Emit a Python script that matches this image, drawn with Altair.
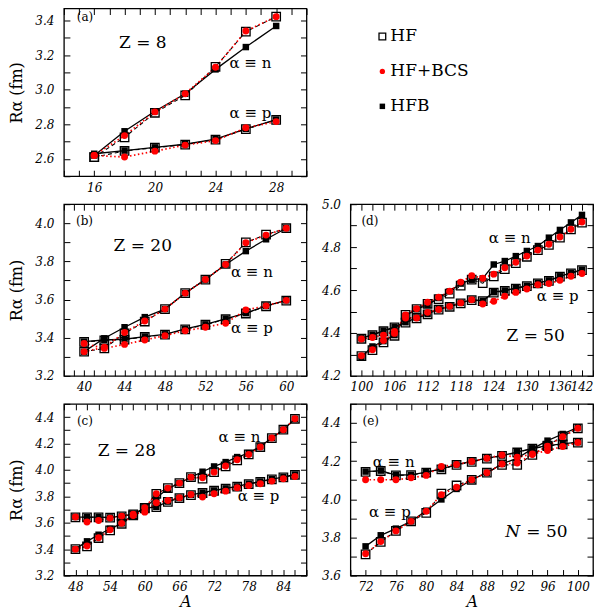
import altair as alt
import pandas as pd

SERIF = "DejaVu Serif"
METHODS = ["HF", "HF+BCS", "HFB"]

# ---------------- Panel (a): Z = 8 ----------------
A_a = [16, 18, 20, 22, 24, 26, 28]
a_hfb_n = [2.62, 2.76, 2.876, 2.977, 3.118, 3.247, 3.369]
a_hf_n = [2.61, 2.725, 2.867, 2.967, 3.133, 3.336, 3.423]
a_bcs_n = [2.62, 2.735, 2.872, 2.977, 3.13, 3.34, 3.423]
a_hfb_p = [2.63, 2.648, 2.667, 2.685, 2.714, 2.774, 2.828]
a_hf_p = [2.61, 2.646, 2.665, 2.683, 2.712, 2.772, 2.826]
a_bcs_p = [2.62, 2.611, 2.645, 2.68, 2.706, 2.78, 2.816]

# ---------------- Panel (b): Z = 20 ----------------
A_b = [40, 42, 44, 46, 48, 50, 52, 54, 56, 58, 60]
b_hfb_n = [3.327, 3.397, 3.455, 3.508, 3.55, 3.634, 3.705, 3.784, 3.854, 3.916, 3.974]
b_hf_n = [3.327, 3.344, 3.423, 3.485, 3.55, 3.634, 3.705, 3.787, 3.900, 3.940, 3.974]
b_bcs_n = [3.327, 3.350, 3.427, 3.488, 3.55, 3.634, 3.705, 3.784, 3.898, 3.938, 3.974]
b_hfb_p = [3.380, 3.388, 3.392, 3.406, 3.418, 3.446, 3.470, 3.499, 3.529, 3.567, 3.596]
b_hf_p = [3.378, 3.386, 3.390, 3.404, 3.416, 3.444, 3.468, 3.497, 3.527, 3.565, 3.594]
b_bcs_p = [3.370, 3.344, 3.365, 3.388, 3.411, 3.437, 3.455, 3.476, 3.546, 3.567, 3.596]

# ---------------- Panel (c): Z = 28 ----------------
A_c = [48, 50, 52, 54, 56, 58, 60, 62, 64, 66, 68, 70, 72, 74, 76, 78, 80, 82, 84, 86]
c_hfb_n = [3.400, 3.459, 3.509, 3.554, 3.595, 3.660, 3.713, 3.789, 3.857, 3.900, 3.945,
           3.986, 4.026, 4.059, 4.097, 4.127, 4.178, 4.241, 4.304, 4.387]
c_hf_n = [3.400, 3.420, 3.484, 3.542, 3.592, 3.655, 3.713, 3.819, 3.862, 3.900, 3.945,
          3.933, 3.983, 4.026, 4.072, 4.117, 4.173, 4.241, 4.304, 4.387]
c_bcs_n = [3.400, 3.424, 3.486, 3.546, 3.595, 3.655, 3.713, 3.819, 3.862, 3.900, 3.945,
           3.940, 3.983, 4.030, 4.077, 4.117, 4.173, 4.241, 4.304, 4.387]
c_hfb_p = [3.643, 3.643, 3.643, 3.640, 3.650, 3.665, 3.710, 3.720, 3.760, 3.789, 3.811,
           3.827, 3.844, 3.860, 3.875, 3.895, 3.912, 3.930, 3.945, 3.965]
c_hf_p = [3.641, 3.641, 3.641, 3.638, 3.648, 3.663, 3.708, 3.718, 3.758, 3.787, 3.809,
          3.825, 3.842, 3.858, 3.873, 3.893, 3.910, 3.928, 3.943, 3.963]
c_bcs_p = [3.643, 3.605, 3.617, 3.635, 3.650, 3.665, 3.680, 3.751, 3.768, 3.789, 3.814,
           3.794, 3.819, 3.839, 3.865, 3.882, 3.895, 3.915, 3.933, 3.950]

# ---------------- Panel (d): Z = 50 ----------------
A_d = [100, 102, 104, 106, 108, 110, 112, 114, 116, 118, 120, 122, 124, 126, 128, 130,
       132, 134, 136, 138, 140]
d_hfb_n = [4.289, 4.337, 4.362, 4.390, 4.480, 4.511, 4.531, 4.563, 4.594, 4.630, 4.648,
           4.654, 4.719, 4.735, 4.758, 4.782, 4.805, 4.844, 4.880, 4.915, 4.950]
d_hf_n = [4.292, 4.320, 4.356, 4.387, 4.484, 4.511, 4.536, 4.558, 4.583, 4.620, 4.648,
          4.632, 4.664, 4.697, 4.725, 4.755, 4.786, 4.810, 4.844, 4.883, 4.914]
d_bcs_n = [4.294, 4.322, 4.365, 4.398, 4.484, 4.513, 4.543, 4.566, 4.594, 4.637, 4.667,
           4.655, 4.674, 4.704, 4.729, 4.758, 4.786, 4.813, 4.847, 4.883, 4.917]
d_hfb_p = [4.375, 4.392, 4.410, 4.428, 4.450, 4.470, 4.489, 4.511, 4.524, 4.540, 4.555,
           4.550, 4.590, 4.598, 4.609, 4.620, 4.633, 4.645, 4.664, 4.680, 4.695]
d_hf_p = [4.373, 4.390, 4.408, 4.426, 4.448, 4.468, 4.487, 4.509, 4.522, 4.538, 4.553,
          4.548, 4.588, 4.596, 4.607, 4.618, 4.631, 4.643, 4.662, 4.678, 4.693]
d_bcs_p = [4.372, 4.379, 4.390, 4.407, 4.470, 4.470, 4.496, 4.509, 4.524, 4.540, 4.555,
           4.535, 4.548, 4.571, 4.589, 4.605, 4.625, 4.630, 4.645, 4.664, 4.677]

# ---------------- Panel (e): N = 50 ----------------
A_e = [72, 74, 76, 78, 80, 82, 84, 86, 88, 90, 92, 94, 96, 98, 100]
e_hfb_n = [4.145, 4.150, 4.127, 4.128, 4.142, 4.159, 4.182, 4.198, 4.215, 4.229, 4.247,
           4.267, 4.281, 4.290, 4.299]
e_hf_n = [4.143, 4.148, 4.125, 4.126, 4.140, 4.157, 4.180, 4.196, 4.213, 4.227, 4.245,
          4.265, 4.279, 4.288, 4.297]
e_bcs_n = [4.102, 4.102, 4.102, 4.112, 4.125, 4.172, 4.182, 4.198, 4.215, 4.232, 4.220,
           4.237, 4.255, 4.276, 4.297]
e_hfb_p = [3.753, 3.811, 3.846, 3.884, 3.940, 3.999, 4.054, 4.102, 4.139, 4.185, 4.215,
           4.264, 4.307, 4.342, 4.377]
e_hf_p = [3.711, 3.776, 3.834, 3.884, 3.928, 4.029, 4.072, 4.102, 4.139, 4.180, 4.180,
          4.232, 4.281, 4.330, 4.372]
e_bcs_p = [3.714, 3.778, 3.834, 3.884, 3.937, 4.024, 4.063, 4.102, 4.139, 4.185, 4.190,
           4.234, 4.278, 4.328, 4.372]

# ---------------- Annotations: (kind, text, A, R) ----------------
ann_a = [("tag", "(a)", 14.85, 3.42), ("main", "Z = 8", 19.2, 3.27),
         ("lab", "α ≡ n", 26.3, 3.157), ("lab", "α ≡ p", 26.3, 2.867)]
ann_b = [("tag", "(b)", 39.2, 4.01), ("main", "Z = 20", 45.8, 3.879),
         ("lab", "α ≡ n", 56.6, 3.742), ("lab", "α ≡ p", 56.6, 3.453)]
ann_c = [("tag", "(c)", 48.25, 4.37), ("main", "Z = 28", 56.9, 4.143),
         ("lab", "α ≡ n", 76.4, 4.249), ("lab", "α ≡ p", 79.7, 3.804)]
ann_d = [("tag", "(d)", 100.0, 4.92), ("main", "Z = 50", 131.6, 4.387),
         ("lab", "α ≡ n", 126.9, 4.841), ("lab", "α ≡ p", 135.6, 4.574)]
ann_e = [("tag", "(e)", 71.6, 4.41), ("mainR", "N", 92.4, 3.83), ("mainL", "= 50", 93.2, 3.83),
         ("lab", "α ≡ n", 75.7, 4.196), ("lab", "α ≡ p", 75.2, 3.935)]

W = 243


def long_df(A, hf_n, bcs_n, hfb_n, hf_p, bcs_p, hfb_p):
    rows = []
    for method, sp, vals in [("HF", "n", hf_n), ("HF+BCS", "n", bcs_n), ("HFB", "n", hfb_n),
                             ("HF", "p", hf_p), ("HF+BCS", "p", bcs_p), ("HFB", "p", hfb_p)]:
        for x, v in zip(A, vals):
            rows.append({"A": x, "R": v, "method": method, "species": sp})
    return pd.DataFrame(rows)


def tick_list(lo, hi, step):
    out = []
    v = lo
    while v <= hi + 1e-9:
        out.append(round(v, 2))
        v += step
    return out


def make_panel(df, ann, xdom, ydom, xstep, xlab, ylab, ytitle, xtitle, H):
    xs = alt.Scale(domain=xdom, nice=False, zero=False)
    ys = alt.Scale(domain=ydom, nice=False, zero=False)
    xt = tick_list(xdom[0], xdom[1], xstep)
    yt = tick_list(round(ydom[0] * 10) / 10, ydom[1], 0.1)
    ax_x = alt.Axis(values=xlab, ticks=False, domain=False, grid=False,
                    labelFont=SERIF, labelFontStyle="italic", labelFontSize=12,
                    labelColor="black", labelPadding=6, labelOverlap=False, labelFlush=True,
                    title=xtitle, titleFont=SERIF, titleFontStyle="italic",
                    titleFontSize=16, titleFontWeight="normal", titleColor="black",
                    titlePadding=1)
    ax_y = alt.Axis(values=ylab, format=".1f", ticks=False, domain=False,
                    grid=False, labelFont=SERIF, labelFontStyle="italic", labelFontSize=12,
                    labelColor="black", labelPadding=10, labelOverlap=False, labelFlush=False,
                    title=ytitle, titleFont=SERIF, titleFontSize=16,
                    titleFontWeight="normal", titleColor="black", titlePadding=10)
    X = alt.X("A:Q", scale=xs, axis=ax_x)
    Y = alt.Y("R:Q", scale=ys, axis=ax_y)

    base = alt.Chart(df)
    hfb_line = base.transform_filter("datum.method == 'HFB'").mark_line(
        color="black", strokeWidth=1.3).encode(x=X, y=Y, detail="species:N")
    hf_line = base.transform_filter("datum.method == 'HF'").mark_line(
        color="black", strokeWidth=1.1, strokeDash=[4, 3]).encode(x=X, y=Y, detail="species:N")
    bcs_line = base.transform_filter("datum.method == 'HF+BCS'").mark_line(
        color="#ff0000", strokeWidth=1.7, strokeDash=[1.5, 2.5]).encode(x=X, y=Y, detail="species:N")
    hfb_pts = base.transform_filter("datum.method == 'HFB'").mark_square(
        color="black", size=42, opacity=1).encode(x=X, y=Y)
    hf_pts = base.transform_filter("datum.method == 'HF'").mark_point(
        shape="square", filled=False, color="black", size=72, strokeWidth=1.3,
        opacity=1).encode(x=X, y=Y)
    bcs_pts = base.transform_filter("datum.method == 'HF+BCS'").mark_circle(
        color="#ff0000", size=48, opacity=1).encode(x=X, y=Y)

    adf = pd.DataFrame([{"kind": k, "text": t, "A": x, "R": y} for k, t, x, y in ann])
    abase = alt.Chart(adf)

    def txt(kind, size, align, style="normal"):
        return abase.transform_filter("datum.kind == '%s'" % kind).mark_text(
            font=SERIF, fontSize=size, align=align, baseline="middle", color="black",
            fontStyle=style).encode(x=X, y=Y, text="text:N")

    texts = [txt("tag", 12, "left"), txt("main", 17, "center"), txt("lab", 15, "center"),
             txt("mainR", 17, "right", "italic"), txt("mainL", 17, "left")]

    inner = alt.layer(hfb_line, hf_line, bcs_line, hfb_pts, hf_pts, bcs_pts, *texts)

    def tick_axis(orient, offset, vals):
        return alt.Axis(orient=orient, offset=offset, values=vals, labels=False, domain=False,
                        grid=False, ticks=True, tickSize=6, tickColor="black", tickWidth=1,
                        title="")
    t1 = base.mark_point(opacity=0).encode(
        x=alt.X("A:Q", scale=xs, axis=tick_axis("top", -H, xt)),
        y=alt.Y("R:Q", scale=ys, axis=tick_axis("right", -W, yt)))
    t2 = base.mark_point(opacity=0).encode(
        x=alt.X("A:Q", scale=xs, axis=tick_axis("bottom", -H, xt)),
        y=alt.Y("R:Q", scale=ys, axis=tick_axis("left", -W, yt)))
    return alt.layer(inner, t1, t2).resolve_axis(x="independent", y="independent").properties(
        width=W, height=H)


pa = make_panel(long_df(A_a, a_hf_n, a_bcs_n, a_hfb_n, a_hf_p, a_bcs_p, a_hfb_p), ann_a,
                [14, 30], [2.5, 3.47], 1, [16, 20, 24, 28], [2.6, 2.8, 3.0, 3.2, 3.4],
                "Rα (fm)", "", 168)
pb = make_panel(long_df(A_b, b_hf_n, b_bcs_n, b_hfb_n, b_hf_p, b_bcs_p, b_hfb_p), ann_b,
                [38, 62], [3.2, 4.1], 1, [40, 44, 48, 52, 56, 60], [3.2, 3.4, 3.6, 3.8, 4.0],
                "Rα (fm)", "", 172)
pc = make_panel(long_df(A_c, c_hf_n, c_bcs_n, c_hfb_n, c_hf_p, c_bcs_p, c_hfb_p), ann_c,
                [46, 88], [3.2, 4.5], 2, [48, 54, 60, 66, 72, 78, 84],
                [3.2, 3.4, 3.6, 3.8, 4.0, 4.2, 4.4], "Rα (fm)", "A", 172)
pd_ = make_panel(long_df(A_d, d_hf_n, d_bcs_n, d_hfb_n, d_hf_p, d_bcs_p, d_hfb_p), ann_d,
                 [98, 142], [4.2, 5.0], 2, [100, 106, 112, 118, 124, 130, 136, 142],
                 [4.2, 4.4, 4.6, 4.8, 5.0], "", "", 172)
pe = make_panel(long_df(A_e, e_hf_n, e_bcs_n, e_hfb_n, e_hf_p, e_bcs_p, e_hfb_p), ann_e,
                [70, 102], [3.6, 4.5], 2, [72, 76, 80, 84, 88, 92, 96, 100],
                [3.6, 3.8, 4.0, 4.2, 4.4], "", "A", 172)

# ---------------- Legend cell ----------------
ldf = pd.DataFrame({"label": METHODS})
LY = alt.Y("label:N", sort=METHODS, scale=alt.Scale(type="point", range=[28, 98], padding=0),
           axis=None)
leg_hf = alt.Chart(ldf).transform_filter("datum.label == 'HF'").mark_point(
    shape="square", filled=False, color="black", size=45, strokeWidth=1.3, opacity=1).encode(
    x=alt.value(32), y=LY)
leg_bcs = alt.Chart(ldf).transform_filter("datum.label == 'HF+BCS'").mark_circle(
    color="#ff0000", size=28, opacity=1).encode(x=alt.value(32), y=LY)
leg_hfb = alt.Chart(ldf).transform_filter("datum.label == 'HFB'").mark_square(
    color="black", size=30, opacity=1).encode(x=alt.value(32), y=LY)
leg_txt = alt.Chart(ldf).mark_text(font=SERIF, fontSize=17, align="left",
                                   baseline="middle", color="black").encode(
    x=alt.value(40), y=LY, text="label:N")
legend = alt.layer(leg_hf, leg_bcs, leg_hfb, leg_txt).properties(
    width=W, height=168, view=alt.ViewBackground(stroke="transparent"))

chart = alt.concat(pa, legend, pb, pd_, pc, pe, columns=2,
                   spacing={"row": 28, "column": 44}, bounds="flush").properties(
    padding={"left": 0, "top": -2, "right": 0, "bottom": 0}
).configure_view(stroke="black", strokeWidth=1.3)

chart.save("out.html", embed_options={"renderer": "svg", "actions": False})
